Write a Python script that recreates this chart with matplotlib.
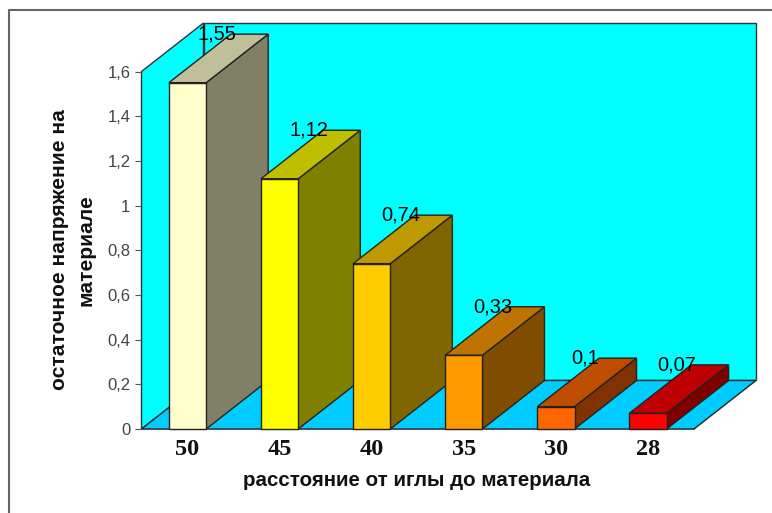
import matplotlib
matplotlib.use('Agg')
import matplotlib.pyplot as plt
from matplotlib.lines import Line2D
from matplotlib.patches import Polygon, Rectangle

categories = ['50', '45', '40', '35', '30', '28']
values = [1.55, 1.12, 0.74, 0.33, 0.1, 0.07]
value_labels = ['1,55', '1,12', '0,74', '0,33', '0,1', '0,07']
y_ticks = [0, 0.2, 0.4, 0.6, 0.8, 1, 1.2, 1.4, 1.6]
y_tick_labels = ['0', '0,2', '0,4', '0,6', '0,8', '1', '1,2', '1,4', '1,6']
front_colors = ['#ffffcc', '#ffff00', '#ffcc00', '#ff9900', '#ff6600', '#ff0000']
top_colors = ['#bfbf99', '#bfbf00', '#bf9900', '#bf7300', '#bf4d00', '#bf0000']
side_colors = ['#808066', '#808000', '#806600', '#804d00', '#803300', '#800000']

W, H = 772, 513
# 3d offset of the depth axis, in data units
DX = 62 / 92.08
DY = 48.5 / 223.4
BAR = 0.405

plt.rcParams['font.family'] = ['Liberation Sans']
fig = plt.figure(figsize=(W / 100, H / 100), dpi=100)
ax = fig.add_axes([141.5 / W, 1 - 429 / H, 552.5 / W, 357.5 / H])
ax.set_xlim(-0.5, 5.5)
ax.set_ylim(0, 1.6)
ax.patch.set_visible(False)
for s in ['top', 'right', 'left']:
    ax.spines[s].set_visible(False)
ax.spines['bottom'].set_color('#555555')

# only the top and left edges of the outer frame are in the picture
fig.add_artist(Line2D([9 / W, 9 / W, 1], [0, 1 - 9.7 / H, 1 - 9.7 / H], color='#666666', lw=1.5))

x0, x1 = -0.5, 5.5
ytop = 1.6
wall = Polygon([(x0 + DX, DY), (x1 + DX, DY), (x1 + DX, ytop + DY), (x0 + DX, ytop + DY)],
               fc='#00ffff', ec='#333333', lw=1, clip_on=False, zorder=1)
side_wall = Polygon([(x0, 0), (x0 + DX, DY), (x0 + DX, ytop + DY), (x0, ytop)],
                    fc='#00ffff', ec='#333333', lw=1, clip_on=False, zorder=1)
floor = Polygon([(x0, 0), (x1, 0), (x1 + DX, DY), (x0 + DX, DY)],
                fc='#00ccff', ec='#222222', lw=1, clip_on=False, zorder=1)
ax.add_patch(wall)
ax.add_patch(side_wall)
ax.add_patch(floor)

for i, v in enumerate(values):
    l, r = i - BAR / 2, i + BAR / 2
    z = 3 + i
    ax.add_patch(Polygon([(r, 0), (r + DX, DY), (r + DX, v + DY), (r, v)],
                         fc=side_colors[i], ec='#222222', lw=1, clip_on=False, zorder=z))
    ax.add_patch(Polygon([(l, v), (r, v), (r + DX, v + DY), (l + DX, v + DY)],
                         fc=top_colors[i], ec='#222222', lw=1, clip_on=False, zorder=z))
    ax.add_patch(Rectangle((l, 0), BAR, v, fc=front_colors[i], ec='#222222', lw=1,
                           clip_on=False, zorder=z))
    ax.text(i + DX / 2 - 0.02, v + DY, value_labels[i], ha='center', va='center',
            fontsize=14.5, color='black', zorder=20, clip_on=False)

ax.set_xticks(range(len(categories)))
ax.set_xticklabels(categories, fontsize=17.5, fontweight='bold', family='Liberation Serif', color='#111111')
ax.tick_params(axis='x', length=0, pad=7)
ax.set_yticks(y_ticks)
ax.set_yticklabels(y_tick_labels, fontsize=12, color='#444444')
ax.tick_params(axis='y', length=5, color='#555555', pad=3)

fig.text(417 / W, 1 - 481 / H, 'расстояние от иглы до материала', ha='center', va='center',
         fontsize=14.8, fontweight='bold', color='#111111')
fig.text(73 / W, 1 - 250 / H, 'остаточное напряжение на\nматериале', ha='center', va='center',
         rotation=90, fontsize=15.1, fontweight='bold', color='#111111', linespacing=1.5)

fig.savefig('out.png', dpi=100)
